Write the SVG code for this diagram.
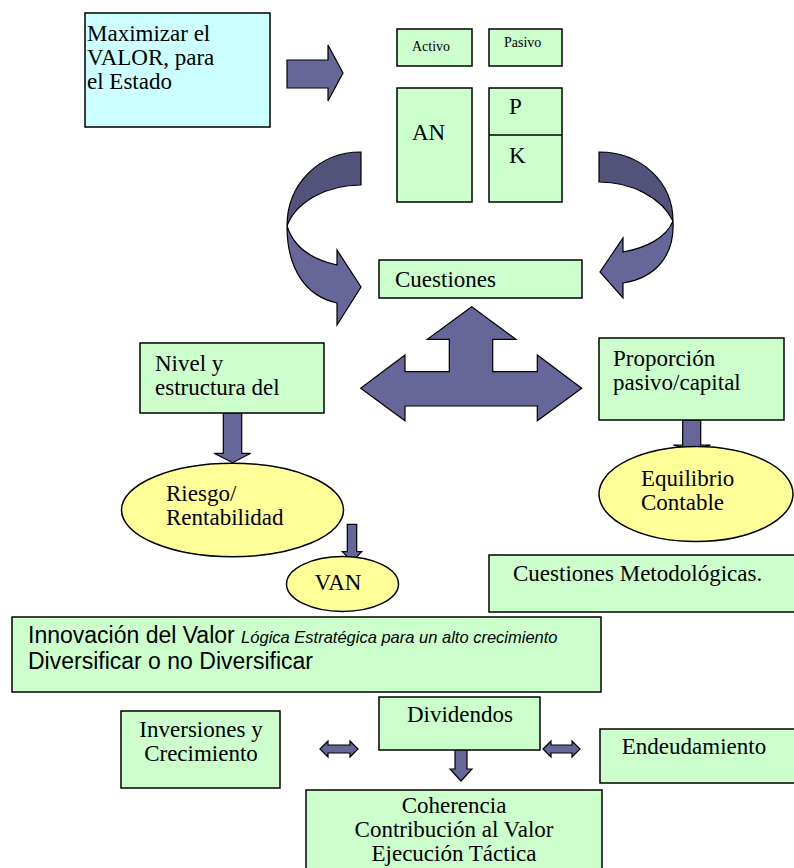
<svg xmlns="http://www.w3.org/2000/svg" width="794" height="868" viewBox="0 0 794 868">
  <style>
    .box { fill: #ccffcc; stroke: #000; stroke-width: 1.5; }
    .cyan { fill: #ccffff; stroke: #000; stroke-width: 1.5; }
    .oval { fill: #ffff99; stroke: #000; stroke-width: 1.5; }
    .arr { fill: #666699; stroke: #000; stroke-width: 1.2; stroke-linejoin: miter; }
    .arrDark { fill: #52527a; stroke: #000; stroke-width: 1.2; }
    .t { font-family: "Liberation Serif", "Times New Roman", serif; font-size: 23px; fill: #000; }
    .ts { font-family: "Liberation Serif", "Times New Roman", serif; font-size: 14px; fill: #000; }
    .s { font-family: "Liberation Sans", Arial, sans-serif; font-size: 23px; fill: #000; }
    .si { font-family: "Liberation Sans", Arial, sans-serif; font-size: 16.5px; font-style: italic; fill: #000; }
    .mid { text-anchor: middle; }
  </style>

  <!-- connectors: block arrows -->
  <g id="connectors">
    <!-- right arrow from the goal box -->
    <polygon class="arr" points="287,60 328,60 328,45 343,73 328,101 328,88 287,88"/>
    <!-- left curved arrow down to Cuestiones -->
    <path class="arrDark" d="M361,152 C318,152 287,185 287,226 C296,202 326,185 361,185 Z"/>
    <path class="arr" d="M287,226 C287,268 305,296 337,303 L337,325 L361,287 L337,250 L337,265 C314,260 294,248 287,226 Z"/>
    <!-- right curved arrow down to Cuestiones -->
    <path class="arrDark" d="M599,152 C641,152 673,182 673,221 C662,198 632,182 599,182 Z"/>
    <path class="arr" d="M673,221 C675,256 655,278 623,283 L623,298 L600,272 L623,238 L623,252 C646,248 666,238 673,221 Z"/>
    <!-- three-way arrow -->
    <polygon class="arr" points="471.7,306.7 516,339.3 492.7,339.3 492.7,371.7 537.3,371.7 537.3,355 581.7,388.3 537.3,420.7 537.3,406 405,406 405,420.7 360.7,388.3 405,355 405,371.7 449.3,371.7 449.3,339.3 427.3,339.3"/>
    <!-- Nivel -> Riesgo -->
    <polygon class="arr" points="223.3,412.7 241.7,412.7 241.7,453.3 250.7,453.3 232.7,462.7 214,453.3 223.3,453.3"/>
    <!-- Riesgo -> VAN -->
    <polygon class="arr" points="347.3,524.3 356.7,524.3 356.7,551.7 361.7,551.7 352.3,561.7 342.3,551.7 347.3,551.7"/>
    <!-- Proporción -> Equilibrio -->
    <polygon class="arr" points="682.7,420 700.7,420 700.7,445 710.7,445 691.7,450 673.3,445 682.7,445"/>
    <!-- Inversiones <-> Dividendos -->
    <polygon class="arr" points="320,749 328,741 328,745 350,745 350,741 358,749 350,757 350,753 328,753 328,757"/>
    <!-- Dividendos <-> Endeudamiento -->
    <polygon class="arr" points="543,749 551,741 551,745 572,745 572,741 580,749 572,757 572,753 551,753 551,757"/>
    <!-- Dividendos -> Coherencia -->
    <polygon class="arr" points="455,741 467,741 467,769 472,769 461,781 450,769 455,769"/>
  </g>

  <g id="goal">
    <rect class="cyan" x="85" y="13" width="185" height="114"/>
    <text class="t" x="87" y="41">Maximizar el</text>
    <text class="t" x="87" y="65">VALOR, para</text>
    <text class="t" x="87" y="89">el Estado</text>
  </g>

  <g id="activo">
    <rect class="box" x="397" y="29" width="75" height="37"/>
    <text class="ts" x="412" y="51">Activo</text>
  </g>
  <g id="pasivo">
    <rect class="box" x="489" y="29" width="73" height="37"/>
    <text class="ts" x="504" y="47">Pasivo</text>
  </g>
  <g id="an">
    <rect class="box" x="397" y="88" width="75" height="114"/>
    <text class="t" x="412" y="140">AN</text>
  </g>
  <g id="pk">
    <rect class="box" x="489" y="88" width="73" height="114"/>
    <line x1="489" y1="135" x2="562" y2="135" stroke="#000" stroke-width="1.5"/>
    <text class="t" x="509" y="114">P</text>
    <text class="t" x="509" y="163">K</text>
  </g>

  <g id="cuestiones">
    <rect class="box" x="379" y="260" width="203" height="38"/>
    <text class="t" x="395" y="287">Cuestiones</text>
  </g>

  <g id="nivel">
    <rect class="box" x="140" y="343" width="184" height="70"/>
    <text class="t" x="155" y="371">Nivel y</text>
    <text class="t" x="155" y="395">estructura del</text>
  </g>

  <g id="proporcion">
    <rect class="box" x="599" y="338" width="185" height="82"/>
    <text class="t" x="613" y="366">Proporción</text>
    <text class="t" x="613" y="390">pasivo/capital</text>
  </g>

  <g id="riesgo">
    <ellipse class="oval" cx="232.5" cy="510" rx="111" ry="46.7"/>
    <text class="t" x="166" y="501">Riesgo/</text>
    <text class="t" x="166" y="525">Rentabilidad</text>
  </g>

  <g id="van">
    <ellipse class="oval" cx="342.5" cy="584" rx="56" ry="27.5"/>
    <text class="t mid" x="338" y="590">VAN</text>
  </g>

  <g id="equilibrio">
    <ellipse class="oval" cx="696" cy="494" rx="97" ry="47.5"/>
    <text class="t" x="641" y="486">Equilibrio</text>
    <text class="t" x="641" y="510">Contable</text>
  </g>

  <g id="metodologicas">
    <rect class="box" x="489" y="555" width="308" height="57"/>
    <text class="t" x="513" y="581">Cuestiones Metodológicas.</text>
  </g>

  <g id="innovacion">
    <rect class="box" x="12" y="617" width="589" height="75"/>
    <text x="28" y="643"><tspan class="s">Innovación del Valor </tspan><tspan class="si">Lógica Estratégica para un alto crecimiento</tspan></text>
    <text class="s" x="28" y="669">Diversificar o no Diversificar</text>
  </g>

  <g id="inversiones">
    <rect class="box" x="121" y="711" width="159" height="77"/>
    <text class="t mid" x="201" y="737">Inversiones y</text>
    <text class="t mid" x="201" y="761">Crecimiento</text>
  </g>

  <g id="dividendos">
    <rect class="box" x="379" y="697" width="161" height="53"/>
    <text class="t mid" x="460" y="722">Dividendos</text>
  </g>

  <g id="endeudamiento">
    <rect class="box" x="600" y="729" width="197" height="54"/>
    <text class="t mid" x="694" y="754">Endeudamiento</text>
  </g>

  <g id="coherencia">
    <rect class="box" x="306" y="790" width="296" height="90"/>
    <text class="t mid" x="454" y="813">Coherencia</text>
    <text class="t mid" x="454" y="837">Contribución al Valor</text>
    <text class="t mid" x="454" y="861">Ejecución Táctica</text>
  </g>
</svg>
